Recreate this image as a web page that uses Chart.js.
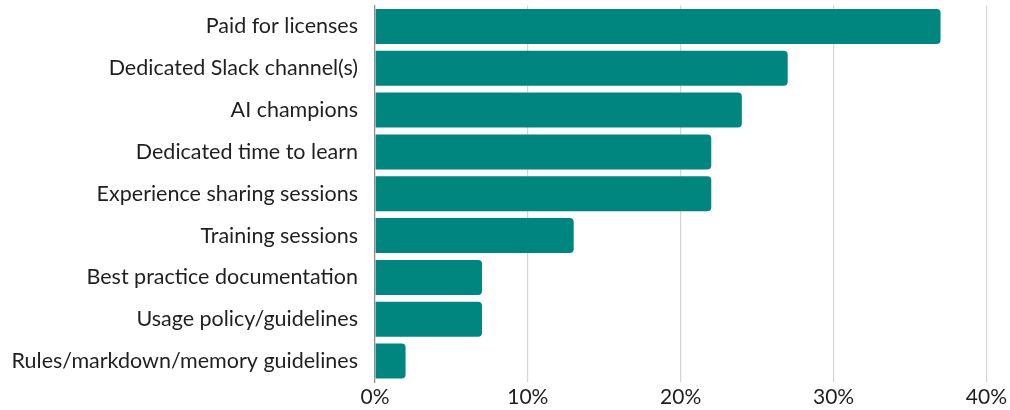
<!DOCTYPE html>
<html>
<head>
<meta charset="utf-8">
<script src="https://cdn.jsdelivr.net/npm/chart.js@4/dist/chart.umd.min.js"></script>
<style>
  html, body { margin: 0; padding: 0; background: #ffffff; }
  #wrap { width: 1010px; height: 410px; }
</style>
</head>
<body>
<div id="wrap"><canvas id="chart"></canvas></div>
<script>
// Enablement measures and share of respondents (%)
const categories = [
  "Paid for licenses",
  "Dedicated Slack channel(s)",
  "AI champions",
  "Dedicated time to learn",
  "Experience sharing sessions",
  "Training sessions",
  "Best practice documentation",
  "Usage policy/guidelines",
  "Rules/markdown/memory guidelines"
];
const shares = [37, 27, 24, 22, 22, 13, 7, 7, 2];
const xTicks = [0, 10, 20, 30, 40];

const barColor = "#00857f";
const textColor = "#1f1f1f";
const fontFamily = "Lato, 'Open Sans', sans-serif";

new Chart(document.getElementById("chart"), {
  type: "bar",
  data: {
    labels: categories,
    datasets: [{
      data: shares,
      backgroundColor: barColor,
      borderRadius: 4,
      barPercentage: 0.837,
      categoryPercentage: 1
    }]
  },
  options: {
    indexAxis: "y",
    responsive: true,
    maintainAspectRatio: false,
    animation: false,
    layout: { padding: { top: 5.5, right: 23, bottom: 0, left: 0 } },
    plugins: { legend: { display: false }, tooltip: { enabled: false } },
    scales: {
      x: {
        min: xTicks[0],
        max: xTicks[xTicks.length - 1],
        afterBuildTicks: (scale) => { scale.ticks = xTicks.map(v => ({ value: v })); },
        afterFit: (scale) => { scale.height = 28; },
        grid: { color: "#d4d4d4", lineWidth: 1.2, drawTicks: false },
        border: { display: false },
        ticks: {
          padding: 3,
          color: textColor,
          font: { family: fontFamily, size: 21 },
          callback: (v) => v + "%"
        }
      },
      y: {
        afterFit: (scale) => {
          // fixed label column; no extra vertical padding from the tick labels
          scale.width = 375;
          scale.paddingTop = 0;
          scale.paddingBottom = 0;
        },
        grid: { display: false, drawTicks: false },
        border: { display: true, color: "#8a8a8a", width: 1.2 },
        ticks: {
          padding: 17,
          color: textColor,
          font: { family: fontFamily, size: 21.5 }
        }
      }
    }
  }
});
</script>
</body>
</html>
